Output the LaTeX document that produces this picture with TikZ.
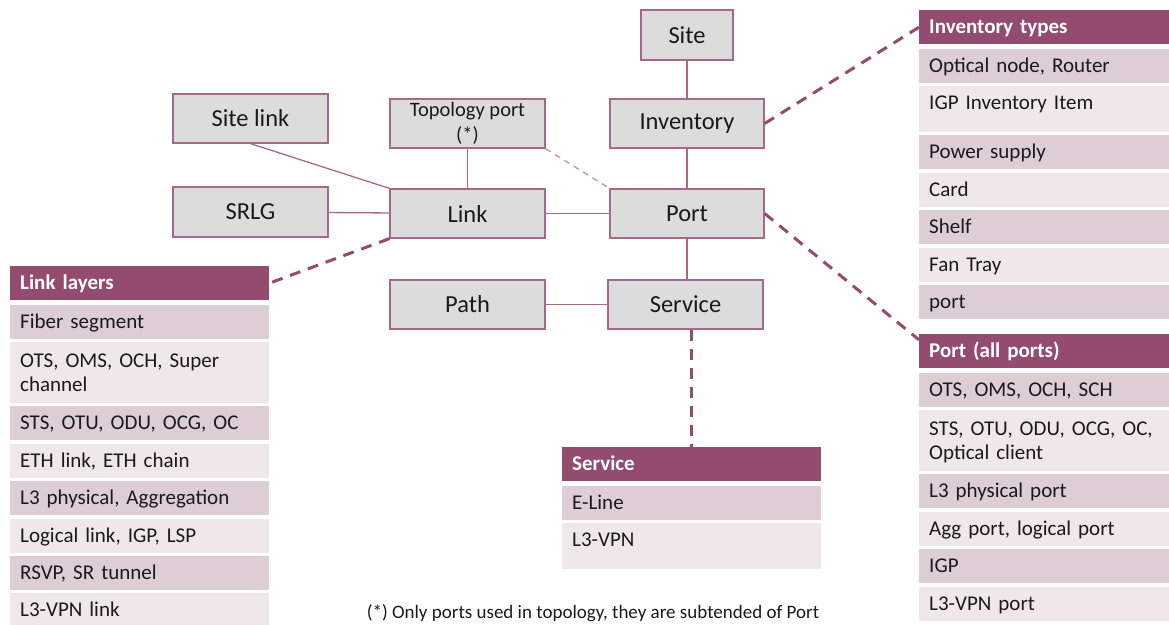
\documentclass[tikz,border=0pt]{standalone}
\usepackage{fontspec}
\setmainfont{Carlito}
\usetikzlibrary{positioning}

\definecolor{plum}{HTML}{934B70}
\definecolor{plumlight}{HTML}{C99CB4}
\definecolor{rowdark}{HTML}{DCCED4}
\definecolor{rowlight}{HTML}{EFE7EA}
\definecolor{boxgray}{HTML}{DCDCDC}
\definecolor{boxline}{HTML}{A8688B}
\definecolor{ink}{HTML}{1A1A1A}

\tikzset{
 entity/.style={draw=boxline, line width=1.3pt, fill=boxgray, text=ink,
  minimum width=155pt, minimum height=49pt, inner sep=0pt,
  font=\fontsize{24.5}{27}\selectfont},
 tie/.style={draw=boxline, line width=1.3pt},
 hint/.style={draw=plumlight, line width=1.5pt, dash pattern=on 6pt off 5pt},
 detail/.style={draw=plum, line width=3pt, dash pattern=on 11pt off 8pt},
 cell/.style={minimum width=259pt, text width=239pt, inner xsep=10pt,
  inner ysep=8.5pt, text height=15pt, text depth=2pt, align=left, text=ink,
  font=\fontsize{21}{24}\selectfont},
 tablehead/.style={cell, fill=plum, text=white,
  font=\bfseries\fontsize{21}{24}\selectfont},
 dark/.style={cell, fill=rowdark},
 light/.style={cell, fill=rowlight},
 tworow/.style={inner ysep=10pt, text depth=26pt},
 tallrow/.style={text depth=14pt}
}

\begin{document}
\begin{tikzpicture}[x=1pt, y=-1pt]
 \useasboundingbox (0,0) rectangle (1169,624);

 %entity boxes
 \node[entity, minimum width=92pt, minimum height=50pt] (site) at (687,35) {Site};
 \node[entity, minimum width=154pt] (inventory) at (687,123.5) {Inventory};
 \node[entity, align=center, font=\fontsize{20.5}{25}\selectfont] (topo) at (467.5,123.5) {Topology port\\(*)};
 \node[entity] (sitelink) at (250.5,118.5) {Site link};
 \node[entity, minimum height=50pt] (srlg) at (250.5,212) {SRLG};
 \node[entity] (link) at (467.5,213.5) {Link};
 \node[entity, minimum width=154pt] (port) at (687,213.5) {Port};
 \node[entity] (path) at (467.5,304.5) {Path};
 \node[entity] (service) at (685.5,304.5) {Service};

 %link layers table
 \node[tablehead, anchor=north west] (linkhead) at (10,266) {Link layers};
 \node[dark, below=4pt of linkhead] (ll1) {Fiber segment};
 \node[light, tworow, below=3pt of ll1] (ll2) {OTS, OMS, OCH, Super\\channel};
 \node[dark, below=3pt of ll2] (ll3) {STS, OTU, ODU, OCG, OC};
 \node[light, below=3pt of ll3] (ll4) {ETH link, ETH chain};
 \node[dark, below=3pt of ll4] (ll5) {L3 physical, Aggregation};
 \node[light, below=3pt of ll5] (ll6) {Logical link, IGP, LSP};
 \node[dark, below=3pt of ll6] (ll7) {RSVP, SR tunnel};
 \node[light, below=3pt of ll7] (ll8) {L3-VPN link};

 %inventory types table
 \node[tablehead, anchor=north west] (invhead) at (919,10) {Inventory types};
 \node[dark, below=4pt of invhead] (it1) {Optical node, Router};
 \node[light, tallrow, below=3pt of it1] (it2) {IGP Inventory Item};
 \node[dark, below=3pt of it2] (it3) {Power supply};
 \node[light, below=3pt of it3] (it4) {Card};
 \node[dark, below=3pt of it4] (it5) {Shelf};
 \node[light, below=3pt of it5] (it6) {Fan Tray};
 \node[dark, below=3pt of it6] (it7) {port};

 %port table
 \node[tablehead, anchor=north west] (porthead) at (919,334) {Port (all ports)};
 \node[dark, below=4pt of porthead] (pt1) {OTS, OMS, OCH, SCH};
 \node[light, tworow, below=3pt of pt1] (pt2) {STS, OTU, ODU, OCG, OC,\\Optical client};
 \node[dark, below=3pt of pt2] (pt3) {L3 physical port};
 \node[light, below=3pt of pt3] (pt4) {Agg port, logical port};
 \node[dark, below=3pt of pt4] (pt5) {IGP};
 \node[light, below=3pt of pt5] (pt6) {L3-VPN port};

 %service table
 \node[tablehead, anchor=north west] (servhead) at (562,447) {Service};
 \node[dark, below=4pt of servhead] (sv1) {E-Line};
 \node[light, tallrow, below=3pt of sv1] (sv2) {L3-VPN};

 %footnote
 \node[anchor=base, text=ink, font=\fontsize{19}{22}\selectfont] (footnote) at (593,618) {(*) Only ports used in topology, they are subtended of Port};

 %solid connectors
 \draw[tie] (site) -- (inventory);
 \draw[tie] (inventory) -- (port);
 \draw[tie] (port.south) -- (port.south |- service.north);
 \draw[tie] (topo) -- (link);
 \draw[tie] (link) -- (port);
 \draw[tie] (srlg) -- (link);
 \draw[tie] (path) -- (service);
 \draw[tie] (sitelink.south) -- (link.north west);

 %dashed connectors
 \draw[hint] (topo.south east) -- (port.north west);
 \draw[detail] (inventory.east) -- (invhead.west);
 \draw[detail] (port.east) -- (porthead.175);
 \draw[detail] (link.south west) -- (linkhead.east);
 \draw[detail] (servhead.north |- service.south) -- (servhead.north);
\end{tikzpicture}
\end{document}
